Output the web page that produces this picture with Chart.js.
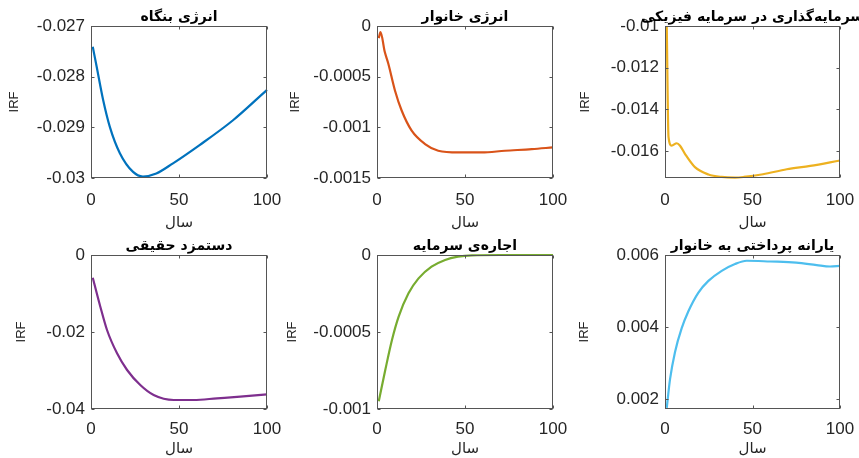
<!DOCTYPE html>
<html>
<head>
<meta charset="utf-8">
<script src="https://cdn.jsdelivr.net/npm/chart.js@4.4.1/dist/chart.umd.min.js"></script>
<style>
  html, body { margin: 0; padding: 0; background: #fff; }
  #fig { position: relative; width: 859px; height: 458px; overflow: hidden; background: #fff; }
  #fig canvas { position: absolute; }
</style>
</head>
<body>
<div id="fig"></div>
<script>
// ---- text ----
const titles = ['انرژی بنگاه', 'انرژی خانوار', 'سرمایه‌گذاری در سرمایه فیزیکی',
                'دستمزد حقیقی', 'اجاره‌ی سرمایه', 'یارانه پرداختی به خانوار'];
const xLabel = 'سال';
const yLabel = 'IRF';

// ---- x axis (years) ----
const xTicks = [0, 50, 100];
const xTickLabels = ['0', '50', '100'];

// ---- impulse responses ----
const firmEnergyX = [1, 3.2, 6.9, 10.7, 16.4, 23.9, 29.5, 37.1, 46.6, 61.7, 80.7, 100];
const firmEnergyY = [-0.02741, -0.0278, -0.02846, -0.02899, -0.02951, -0.02988, -0.02997, -0.02991, -0.02971, -0.02935, -0.02886, -0.02826];

const homeEnergyX = [1, 2, 4.4, 6.4, 10.2, 14, 19.7, 27.3, 34.8, 46.2, 59.5, 72.7, 87.9, 100];
const homeEnergyY = [-0.00012, -0.00006, -0.000255, -0.00037, -0.000636, -0.000834, -0.001033, -0.001165, -0.001231, -0.001248, -0.001248, -0.001231, -0.001215, -0.001198];

const investX = [1, 2, 3.8, 6.7, 8.6, 11.4, 17.1, 24.8, 32.4, 40, 45, 56, 69.6, 83, 100];
const investY = [-0.0100, -0.01533, -0.01575, -0.01563, -0.01575, -0.01614, -0.01678, -0.01713, -0.01725, -0.01728, -0.01725, -0.01712, -0.01688, -0.01672, -0.01646];

const wageX = [1, 5.3, 9.1, 14.8, 20.5, 28, 35.6, 47, 58.3, 71.6, 84.8, 100];
const wageY = [-0.0059, -0.01342, -0.01948, -0.02554, -0.02987, -0.03377, -0.03636, -0.03766, -0.03766, -0.03723, -0.0368, -0.03619];

const rentX = [1, 4.7, 8.5, 12.3, 17.9, 23.6, 31, 38.7, 46, 54, 70, 85, 100];
const rentY = [-0.00095, -0.000747, -0.000552, -0.0004, -0.000249, -0.000152, -0.000076, -0.000032, -0.000011, -0.000002, 0, 0, 0];

const subsidyX = [1, 2.9, 5.7, 9.5, 13.3, 19, 24.8, 32.4, 40, 46.7, 60, 75, 86.7, 94.3, 100];
const subsidyY = [0.00175, 0.002555, 0.0033, 0.00396, 0.00443, 0.00495, 0.00528, 0.00556, 0.00575, 0.00584, 0.00582, 0.00579, 0.00572, 0.00568, 0.0057];

// ---- y axes ----
const yRanges = [[-0.03, -0.027], [-0.0015, 0], [-0.0173, -0.01], [-0.04, 0], [-0.001, 0], [0.00172, 0.006]];
const yTicks = [
  [-0.03, -0.029, -0.028, -0.027],
  [-0.0015, -0.001, -0.0005, 0],
  [-0.016, -0.014, -0.012, -0.01],
  [-0.04, -0.02, 0],
  [-0.001, -0.0005, 0],
  [0.002, 0.004, 0.006]
];
const yTickLabels = [
  ['-0.03', '-0.029', '-0.028', '-0.027'],
  ['-0.0015', '-0.001', '-0.0005', '0'],
  ['-0.016', '-0.014', '-0.012', '-0.01'],
  ['-0.04', '-0.02', '0'],
  ['-0.001', '-0.0005', '0'],
  ['0.002', '0.004', '0.006']
];

const seriesX = [firmEnergyX, homeEnergyX, investX, wageX, rentX, subsidyX];
const seriesY = [firmEnergyY, homeEnergyY, investY, wageY, rentY, subsidyY];
const colors = ['#0072BD', '#D95319', '#EDB120', '#7E2F8E', '#77AC30', '#4DBEEE'];

// ---- grid of subplots (canvas boxes, axes areas) ----
const cols = [[0, 286], [286, 573], [573, 859]];
const rows = [[0, 240], [229, 458]];
const areaL = [91, 377, 665], areaR = [267, 553, 840];
const areaT = [26, 255], areaB = [178, 409];
const ylabelCenter = [14, 295, 585, 21, 292.5, 584];
const xlabelCenter = [223, 449];
const xTickGap = [12, 10];

const TICK_FONT = '"Liberation Sans", Arial, Helvetica, sans-serif';
const AR_FONT = '"DejaVu Sans", sans-serif';

// axes box with inward tick marks, plus the panel title
const framePlugin = {
  id: 'frame',
  afterDatasetsDraw(chart, args, opts) {
    const { ctx, chartArea: a, scales: { x, y } } = chart;
    ctx.save();
    ctx.strokeStyle = '#555';
    ctx.lineWidth = 1;
    const L = Math.round(a.left) + 0.5, R = Math.round(a.right) - 0.5;
    const T = Math.round(a.top) + 0.5, B = Math.round(a.bottom) - 0.5;
    ctx.strokeRect(L, T, R - L, B - T);
    const tl = 3;
    ctx.beginPath();
    y.ticks.forEach(t => {
      const p = Math.round(y.getPixelForValue(t.value)) + 0.5;
      ctx.moveTo(L, p); ctx.lineTo(L + tl, p);
      ctx.moveTo(R, p); ctx.lineTo(R - tl, p);
    });
    x.ticks.forEach(t => {
      const p = Math.round(x.getPixelForValue(t.value)) + 0.5;
      ctx.moveTo(p, B); ctx.lineTo(p, B - tl);
      ctx.moveTo(p, T); ctx.lineTo(p, T + tl);
    });
    ctx.stroke();
    ctx.fillStyle = '#000';
    ctx.font = 'bold 14px ' + AR_FONT;
    ctx.textAlign = 'center';
    ctx.textBaseline = 'alphabetic';
    ctx.fillText(opts.text, (a.left + a.right) / 2, a.top - 5);
    ctx.restore();
  }
};

const fig = document.getElementById('fig');

for (let i = 0; i < 6; i++) {
  const c = i % 3, r = Math.floor(i / 3);
  const cw = cols[c][1] - cols[c][0], ch = rows[r][1] - rows[r][0];
  const canvas = document.createElement('canvas');
  canvas.width = cw; canvas.height = ch;
  canvas.style.left = cols[c][0] + 'px';
  canvas.style.top = rows[r][0] + 'px';
  canvas.style.width = cw + 'px';
  canvas.style.height = ch + 'px';
  fig.appendChild(canvas);

  const padLeft = Math.max(0, ylabelCenter[i] - 6.5 - cols[c][0]);
  const yWidth = areaL[c] - cols[c][0] - padLeft;
  const padTop = areaT[r] - rows[r][0];
  const padRight = cols[c][1] - areaR[c];
  const xHeight = rows[r][1] - areaB[r];
  const xTitlePad = rows[r][1] - 7.5 - xlabelCenter[r];

  const pts = seriesX[i].map((xv, k) => ({ x: xv, y: seriesY[i][k] }));
  const yt = yTicks[i], ytl = yTickLabels[i];

  new Chart(canvas, {
    type: 'line',
    data: {
      datasets: [{
        data: pts,
        borderColor: colors[i],
        borderWidth: 2.2,
        pointRadius: 0,
        fill: false,
        clip: 2,
        cubicInterpolationMode: 'monotone'
      }]
    },
    options: {
      responsive: false,
      animation: false,
      devicePixelRatio: 1,
      layout: { padding: { left: padLeft, top: padTop, right: padRight, bottom: 0 } },
      plugins: {
        legend: { display: false },
        tooltip: { enabled: false },
        frame: { text: titles[i] }
      },
      scales: {
        x: {
          type: 'linear',
          min: 0, max: 100,
          afterBuildTicks: s => { s.ticks = xTicks.map(v => ({ value: v })); },
          afterFit: s => { s.height = xHeight; },
          grid: { display: false, drawTicks: true, tickLength: xTickGap[r] },
          border: { display: false },
          ticks: {
            padding: 0,
            color: '#262626',
            maxRotation: 0,
            font: { family: TICK_FONT, size: 17 },
            callback: v => xTickLabels[xTicks.indexOf(v)]
          },
          title: {
            display: true, text: xLabel, color: '#262626',
            font: { family: AR_FONT, size: 15, lineHeight: 1 },
            padding: { top: 0, bottom: xTitlePad }
          }
        },
        y: {
          type: 'linear',
          min: yRanges[i][0], max: yRanges[i][1],
          afterBuildTicks: s => { s.ticks = yt.map(v => ({ value: v })); },
          afterFit: s => { s.width = yWidth; },
          grid: { display: false, drawTicks: true, tickLength: 6 },
          border: { display: false },
          ticks: {
            padding: 0,
            color: '#262626',
            font: { family: TICK_FONT, size: 17 },
            callback: v => { const k = yt.findIndex(t => Math.abs(t - v) < 1e-12); return k >= 0 ? ytl[k] : ''; }
          },
          title: {
            display: true, text: yLabel, color: '#262626',
            font: { family: TICK_FONT, size: 13, lineHeight: 1 },
            padding: { top: 0, bottom: 0 }
          }
        }
      }
    },
    plugins: [framePlugin]
  });
}
</script>
</body>
</html>
